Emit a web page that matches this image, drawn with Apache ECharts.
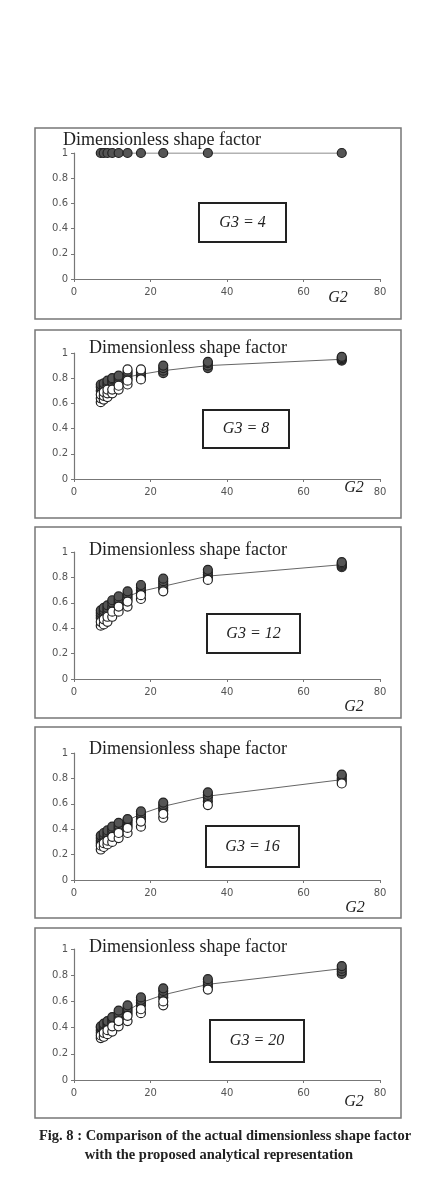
<!DOCTYPE html>
<html>
<head>
<meta charset="utf-8">
<script src="https://cdn.jsdelivr.net/npm/echarts@6/dist/echarts.min.js"></script>
<style>
  html, body { margin: 0; padding: 0; background: #fff; }
  #chart { width: 422px; height: 1190px; }
</style>
</head>
<body>
<div id="chart"></div>
<script>
// G2 values (70/n)
const g2 = [7, 7.78, 8.75, 10, 11.67, 14, 17.5, 23.33, 35, 70];
const xTicks = [0, 20, 40, 60, 80];
const yTicks = [0, 0.2, 0.4, 0.6, 0.8, 1];
const g3Labels = ['G3 = 4', 'G3 = 8', 'G3 = 12', 'G3 = 16', 'G3 = 20'];

// analytical representation (line)
const line4 = [1, 1, 1, 1, 1, 1, 1, 1, 1, 1];
const line8 = [0.72, 0.73, 0.75, 0.77, 0.79, 0.81, 0.83, 0.86, 0.90, 0.95];
const line12 = [0.50, 0.52, 0.55, 0.58, 0.61, 0.65, 0.69, 0.73, 0.81, 0.90];
const line16 = [0.33, 0.35, 0.38, 0.41, 0.44, 0.47, 0.52, 0.58, 0.66, 0.79];
const line20 = [0.37, 0.39, 0.42, 0.45, 0.49, 0.53, 0.59, 0.65, 0.73, 0.85];

// actual values, dark (overlapping) points per G2
const dark4 = [[1], [1], [1], [1], [1], [1], [1], [1], [1], [1]];
const dark8 = [[0.70, 0.73, 0.75], [0.72, 0.74, 0.76], [0.74, 0.76, 0.78], [0.75, 0.77, 0.79, 0.80],
  [0.77, 0.79, 0.81, 0.82], [0.80, 0.83, 0.85], [0.81, 0.83, 0.85], [0.84, 0.86, 0.88, 0.90],
  [0.88, 0.90, 0.92, 0.93], [0.94, 0.95, 0.96, 0.97]];
const dark12 = [[0.48, 0.50, 0.52, 0.54], [0.50, 0.52, 0.54, 0.56], [0.52, 0.54, 0.56, 0.58], [0.55, 0.57, 0.60, 0.62],
  [0.59, 0.61, 0.63, 0.65], [0.63, 0.65, 0.67, 0.69], [0.68, 0.70, 0.72, 0.74], [0.71, 0.73, 0.75, 0.77, 0.79],
  [0.80, 0.82, 0.84, 0.86], [0.88, 0.89, 0.90, 0.91, 0.92]];
const dark16 = [[0.29, 0.31, 0.33, 0.35], [0.31, 0.33, 0.35, 0.37], [0.33, 0.35, 0.37, 0.39], [0.36, 0.38, 0.40, 0.42],
  [0.39, 0.41, 0.43, 0.45], [0.43, 0.45, 0.47, 0.48], [0.48, 0.50, 0.52, 0.54], [0.55, 0.57, 0.59, 0.61],
  [0.62, 0.65, 0.67, 0.69], [0.78, 0.80, 0.82, 0.83]];
const dark20 = [[0.36, 0.38, 0.40, 0.41], [0.38, 0.40, 0.42, 0.43], [0.40, 0.42, 0.44, 0.45], [0.43, 0.45, 0.47, 0.48],
  [0.47, 0.49, 0.51, 0.53], [0.51, 0.53, 0.55, 0.57], [0.57, 0.59, 0.61, 0.63], [0.63, 0.65, 0.68, 0.70],
  [0.71, 0.73, 0.75, 0.77], [0.81, 0.83, 0.85, 0.87]];

// actual values, open circles per G2
const open4 = [[], [], [], [], [], [], [], [], [], []];
const open8 = [[0.61, 0.64, 0.67], [0.63, 0.66, 0.69], [0.65, 0.68, 0.71], [0.68, 0.71], [0.71, 0.74],
  [0.75, 0.78, 0.87], [0.79, 0.87], [], [], []];
const open12 = [[0.42, 0.45], [0.43, 0.47], [0.45, 0.49], [0.49, 0.53], [0.53, 0.57], [0.57, 0.61],
  [0.63, 0.66], [0.69], [0.78], []];
const open16 = [[0.24, 0.27], [0.26, 0.29], [0.28, 0.31], [0.30, 0.34], [0.33, 0.37], [0.37, 0.41],
  [0.42, 0.46], [0.49, 0.52], [0.59], [0.76]];
const open20 = [[0.32, 0.34], [0.33, 0.36], [0.35, 0.38], [0.37, 0.41], [0.41, 0.45], [0.45, 0.49],
  [0.51, 0.54], [0.57, 0.60], [0.69], []];

const lines = [line4, line8, line12, line16, line20];
const darks = [dark4, dark8, dark12, dark16, dark20];
const opens = [open4, open8, open12, open16, open20];

// panel layout: frame box, plot area, label box, title, G2 position
const panels = [
  { box: [35, 128, 401, 319], top: 153, bottom: 279, lab: [199, 203, 286, 242], title: [63, 140], g2: [338, 298] },
  { box: [35, 330, 401, 518], top: 353, bottom: 479, lab: [203, 410, 289, 448], title: [89, 348], g2: [354, 488] },
  { box: [35, 527, 401, 718], top: 552, bottom: 679, lab: [207, 614, 300, 653], title: [89, 550], g2: [354, 707] },
  { box: [35, 727, 401, 918], top: 753, bottom: 880, lab: [206, 826, 299, 867], title: [89, 749], g2: [355, 908] },
  { box: [35, 928, 401, 1118], top: 949, bottom: 1080, lab: [210, 1020, 304, 1062], title: [89, 947], g2: [354, 1102] }
];

function pairs(vals) {
  const out = [];
  vals.forEach((list, i) => list.forEach(v => out.push([g2[i], v])));
  return out;
}

const chart = echarts.init(document.getElementById('chart'));
const grids = [], xAxes = [], yAxes = [], series = [], graphics = [];

panels.forEach((p, i) => {
  grids.push({ left: 74, width: 306, top: p.top, height: p.bottom - p.top });
  xAxes.push({
    gridIndex: i, type: 'value', min: 0, max: 80, interval: 20,
    axisLine: { lineStyle: { color: '#777', width: 1.2 } },
    axisTick: { show: true, length: 3, lineStyle: { color: '#777' } },
    axisLabel: { color: '#555', fontSize: 10, margin: 8, fontFamily: 'DejaVu Sans' },
    splitLine: { show: false }
  });
  yAxes.push({
    gridIndex: i, type: 'value', min: 0, max: 1, interval: 0.2,
    axisLine: { show: true, lineStyle: { color: '#777', width: 1.2 } },
    axisTick: { show: true, length: 3, lineStyle: { color: '#777' } },
    axisLabel: { color: '#555', fontSize: 10, margin: 6, fontFamily: 'DejaVu Sans',
      formatter: v => String(Math.round(v * 10) / 10) },
    splitLine: { show: false }
  });
  series.push({
    type: 'line', xAxisIndex: i, yAxisIndex: i, showSymbol: false,
    data: g2.map((x, k) => [x, lines[i][k]]),
    lineStyle: { color: '#666', width: 1 }, z: 1
  });
  series.push({
    type: 'scatter', xAxisIndex: i, yAxisIndex: i, symbol: 'circle', symbolSize: 9,
    data: pairs(darks[i]),
    itemStyle: { color: '#555', borderColor: '#222', borderWidth: 1.2, opacity: 1 }, z: 2
  });
  series.push({
    type: 'scatter', xAxisIndex: i, yAxisIndex: i, symbol: 'circle', symbolSize: 9,
    data: pairs(opens[i]),
    itemStyle: { color: '#fff', borderColor: '#222', borderWidth: 1.2, opacity: 1 }, z: 3
  });

  const b = p.box, l = p.lab;
  graphics.push({
    type: 'rect', shape: { x: b[0], y: b[1], width: b[2] - b[0], height: b[3] - b[1] },
    style: { fill: 'none', stroke: '#777', lineWidth: 1.5 }, z: 0
  });
  graphics.push({
    type: 'rect', shape: { x: l[0], y: l[1], width: l[2] - l[0], height: l[3] - l[1] },
    style: { fill: '#fff', stroke: '#222', lineWidth: 2 }, z: 10
  });
  graphics.push({
    type: 'text', x: (l[0] + l[2]) / 2, y: (l[1] + l[3]) / 2,
    style: { text: g3Labels[i], fill: '#222', font: 'italic 16px "Liberation Serif"',
      textAlign: 'center', textVerticalAlign: 'middle' }, z: 11
  });
  graphics.push({
    type: 'text', x: p.title[0], y: p.title[1],
    style: { text: 'Dimensionless shape factor', fill: '#222', font: '18px "Liberation Serif"',
      textAlign: 'left', textVerticalAlign: 'middle' }, z: 11
  });
  graphics.push({
    type: 'text', x: p.g2[0], y: p.g2[1],
    style: { text: 'G2', fill: '#222', font: 'italic 16px "Liberation Serif"',
      textAlign: 'center', textVerticalAlign: 'middle' }, z: 11
  });
});

graphics.push({
  type: 'text', x: 225, y: 1136,
  style: { text: 'Fig. 8 : Comparison of the actual dimensionless shape factor', fill: '#222',
    font: 'bold 14.5px "Liberation Serif"', textAlign: 'center', textVerticalAlign: 'middle' }
});
graphics.push({
  type: 'text', x: 219, y: 1155,
  style: { text: 'with the proposed analytical representation', fill: '#222',
    font: 'bold 14.5px "Liberation Serif"', textAlign: 'center', textVerticalAlign: 'middle' }
});

chart.setOption({
  animation: false,
  backgroundColor: '#fff',
  grid: grids,
  xAxis: xAxes,
  yAxis: yAxes,
  series: series,
  graphic: graphics
});
</script>
</body>
</html>
